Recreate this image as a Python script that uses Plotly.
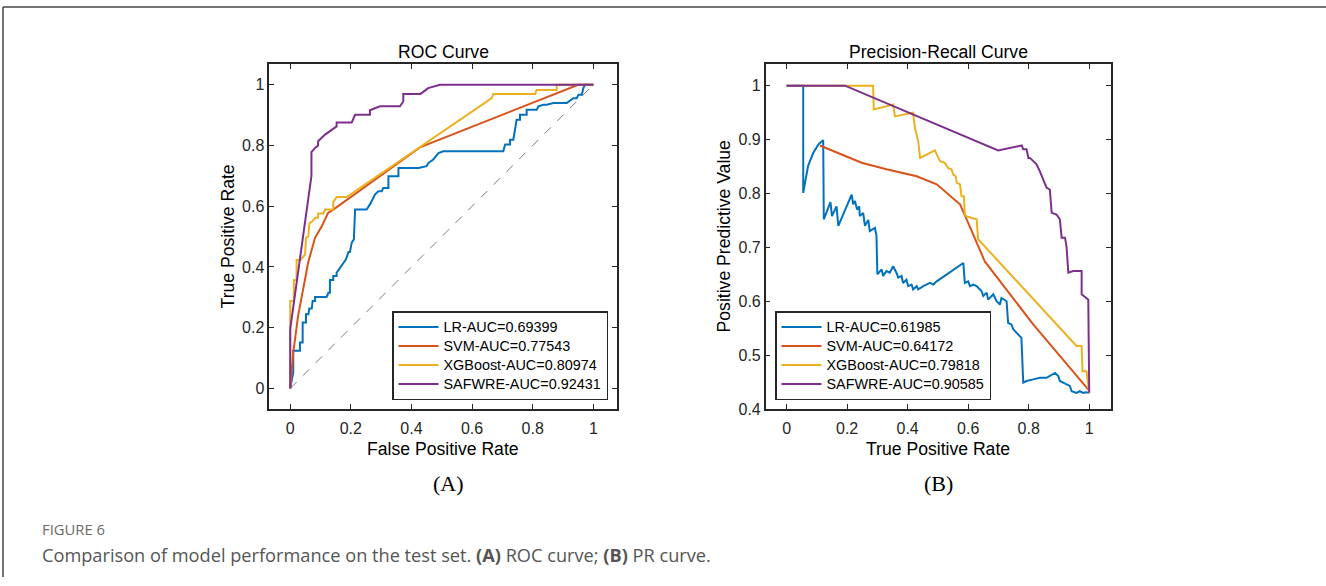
import plotly.graph_objects as go

# ---------------- ROC data ----------------
roc_lr_fpr = [0, 0.010, 0.010, 0.032, 0.032, 0.041, 0.041, 0.052, 0.052, 0.060, 0.063, 0.071, 0.074, 0.082, 0.082,
              0.120, 0.126, 0.131, 0.131, 0.142, 0.142, 0.153, 0.153, 0.164, 0.175, 0.184, 0.192, 0.197, 0.203,
              0.210, 0.214, 0.252, 0.263, 0.269, 0.280, 0.291, 0.302, 0.307, 0.324, 0.324, 0.357, 0.357, 0.423,
              0.450, 0.456, 0.472, 0.489, 0.505, 0.703, 0.709, 0.725, 0.725, 0.736, 0.747, 0.758, 0.758, 0.780,
              0.780, 0.813, 0.819, 0.835, 0.846, 0.868, 0.912, 0.918, 0.934, 0.945, 0.951, 0.962, 0.967, 0.973, 1.0]
roc_lr_tpr = [0, 0.053, 0.124, 0.124, 0.151, 0.151, 0.217, 0.217, 0.244, 0.244, 0.263, 0.263, 0.288, 0.288, 0.301,
              0.301, 0.315, 0.315, 0.357, 0.357, 0.370, 0.370, 0.381, 0.398, 0.414, 0.425, 0.449, 0.449, 0.480,
              0.491, 0.589, 0.589, 0.606, 0.617, 0.639, 0.649, 0.649, 0.660, 0.660, 0.699, 0.699, 0.726, 0.726,
              0.732, 0.743, 0.754, 0.775, 0.781, 0.781, 0.803, 0.803, 0.819, 0.819, 0.885, 0.885, 0.901, 0.901,
              0.918, 0.918, 0.929, 0.934, 0.934, 0.940, 0.940, 0.945, 0.956, 0.956, 0.967, 0.967, 0.989, 1.0, 1.0]

roc_svm_fpr = [0, 0.010, 0.026, 0.043, 0.059, 0.082, 0.104, 0.125, 0.142, 0.430, 0.950, 1.0]
roc_svm_tpr = [0, 0.118, 0.239, 0.326, 0.414, 0.496, 0.534, 0.578, 0.589, 0.795, 1.0, 1.0]

roc_xgb_fpr = [0, 0, 0.012, 0.012, 0.021, 0.021, 0.034, 0.049, 0.052, 0.060, 0.063, 0.074, 0.082, 0.092, 0.092,
               0.109, 0.115, 0.142, 0.142, 0.153, 0.186, 0.665, 0.670, 0.808, 0.813, 0.879, 0.879, 1.0]
roc_xgb_tpr = [0, 0.288, 0.288, 0.357, 0.357, 0.423, 0.423, 0.441, 0.496, 0.501, 0.543, 0.551, 0.562, 0.562, 0.576,
               0.576, 0.589, 0.589, 0.613, 0.630, 0.630, 0.956, 0.970, 0.970, 0.983, 0.983, 1.0, 1.0]

roc_saf_fpr = [0, 0, 0.070, 0.070, 0.082, 0.092, 0.092, 0.115, 0.153, 0.153, 0.203, 0.214, 0.263, 0.263, 0.296,
               0.362, 0.373, 0.373, 0.430, 0.455, 0.494, 1.0]
roc_saf_tpr = [0, 0.195, 0.700, 0.778, 0.792, 0.800, 0.814, 0.836, 0.863, 0.876, 0.876, 0.901, 0.901, 0.916, 0.929,
               0.929, 0.945, 0.970, 0.970, 0.989, 1.0, 1.0]

chance_line = [0, 1]

# ---------------- PR data ----------------
pr_lr_rec = [0, 0.055, 0.055, 0.071, 0.088, 0.105, 0.121, 0.123, 0.145, 0.150, 0.165, 0.171, 0.215, 0.220, 0.226,
             0.233, 0.240, 0.242, 0.253, 0.259, 0.270, 0.275, 0.292, 0.297, 0.300, 0.314, 0.319, 0.330, 0.341,
             0.352, 0.363, 0.369, 0.380, 0.385, 0.396, 0.402, 0.413, 0.418, 0.430, 0.435, 0.452, 0.463, 0.474,
             0.485, 0.496, 0.584, 0.589, 0.600, 0.606, 0.617, 0.628, 0.644, 0.650, 0.661, 0.666, 0.683, 0.694,
             0.705, 0.710, 0.727, 0.732, 0.743, 0.749, 0.754, 0.765, 0.776, 0.782, 0.793, 0.815, 0.837, 0.859,
             0.887, 0.898, 0.903, 0.914, 0.925, 0.936, 0.942, 0.958, 0.969, 0.980, 0.991, 1.0]
pr_lr_prec = [1.0, 1.0, 0.801, 0.851, 0.875, 0.891, 0.899, 0.752, 0.784, 0.758, 0.776, 0.740, 0.798, 0.780, 0.786,
              0.770, 0.776, 0.758, 0.764, 0.740, 0.751, 0.730, 0.736, 0.722, 0.650, 0.659, 0.647, 0.656, 0.653,
              0.665, 0.653, 0.644, 0.647, 0.634, 0.640, 0.628, 0.631, 0.622, 0.628, 0.622, 0.628, 0.631, 0.634,
              0.631, 0.637, 0.671, 0.634, 0.637, 0.628, 0.631, 0.628, 0.619, 0.610, 0.616, 0.603, 0.613, 0.600,
              0.594, 0.606, 0.600, 0.560, 0.557, 0.548, 0.545, 0.538, 0.532, 0.449, 0.452, 0.455, 0.458, 0.458,
              0.467, 0.461, 0.452, 0.449, 0.446, 0.443, 0.433, 0.430, 0.433, 0.430, 0.431, 0.430]

pr_svm_rec = [0.110, 0.248, 0.330, 0.430, 0.496, 0.573, 0.595, 0.655, 0.815, 1.0]
pr_svm_prec = [0.889, 0.857, 0.845, 0.832, 0.817, 0.780, 0.752, 0.674, 0.557, 0.434]

pr_xgb_rec = [0, 0.286, 0.288, 0.352, 0.358, 0.418, 0.424, 0.435, 0.441, 0.474, 0.490, 0.501, 0.507, 0.523, 0.534,
              0.545, 0.551, 0.559, 0.562, 0.573, 0.578, 0.586, 0.589, 0.593, 0.628, 0.633, 0.958, 0.975, 0.978,
              0.991, 0.997, 1.0]
pr_xgb_prec = [1.0, 1.0, 0.956, 0.965, 0.943, 0.950, 0.922, 0.897, 0.866, 0.876, 0.880, 0.867, 0.860, 0.857, 0.847,
               0.845, 0.835, 0.832, 0.820, 0.817, 0.795, 0.795, 0.761, 0.758, 0.752, 0.715, 0.517, 0.517, 0.470,
               0.470, 0.436, 0.430]

pr_saf_rec = [0, 0.193, 0.699, 0.777, 0.782, 0.793, 0.799, 0.804, 0.826, 0.837, 0.859, 0.870, 0.876, 0.892, 0.903,
              0.909, 0.920, 0.925, 0.931, 0.947, 0.975, 0.975, 0.997, 1.0]
pr_saf_prec = [1.0, 1.0, 0.880, 0.889, 0.882, 0.882, 0.866, 0.866, 0.854, 0.841, 0.811, 0.807, 0.764, 0.761, 0.752,
               0.718, 0.718, 0.702, 0.653, 0.656, 0.656, 0.613, 0.603, 0.430]

roc_names = ["LR-AUC=0.69399", "SVM-AUC=0.77543", "XGBoost-AUC=0.80974", "SAFWRE-AUC=0.92431"]
pr_names = ["LR-AUC=0.61985", "SVM-AUC=0.64172", "XGBoost-AUC=0.79818", "SAFWRE-AUC=0.90585"]
colors = ["#0072BD", "#D95319", "#EDB120", "#7E2F8E"]

tick_vals_01 = [0, 0.2, 0.4, 0.6, 0.8, 1]
tick_text_01 = ["0", "0.2", "0.4", "0.6", "0.8", "1"]
pr_y_vals = [0.4, 0.5, 0.6, 0.7, 0.8, 0.9, 1]
pr_y_text = ["0.4", "0.5", "0.6", "0.7", "0.8", "0.9", "1"]

W, H = 1326, 586
VS = 0.987  # empirical vertical correction
FONT = "Liberation Sans, Arial, sans-serif"
AX = "#262626"
LEG_TXT = 14.4


def leg_label(s):
    return '<span style="font-size:%spx">%s</span>' % (LEG_TXT, s)


fig = go.Figure()

fig.add_trace(go.Scatter(x=chance_line, y=chance_line, mode="lines", showlegend=False,
                         line=dict(color="#7a7a7a", width=1, dash="dash"), xaxis="x", yaxis="y"))

roc_x = [roc_lr_fpr, roc_svm_fpr, roc_xgb_fpr, roc_saf_fpr]
roc_y = [roc_lr_tpr, roc_svm_tpr, roc_xgb_tpr, roc_saf_tpr]
for xs, ys, nm, c in zip(roc_x, roc_y, roc_names, colors):
    fig.add_trace(go.Scatter(x=xs, y=ys, mode="lines", name=leg_label(nm), line=dict(color=c, width=2),
                             xaxis="x", yaxis="y", legend="legend"))

pr_x = [pr_lr_rec, pr_svm_rec, pr_xgb_rec, pr_saf_rec]
pr_y = [pr_lr_prec, pr_svm_prec, pr_xgb_prec, pr_saf_prec]
for xs, ys, nm, c in zip(pr_x, pr_y, pr_names, colors):
    fig.add_trace(go.Scatter(x=xs, y=ys, mode="lines", name=leg_label(nm), line=dict(color=c, width=2),
                             xaxis="x2", yaxis="y2", legend="legend2"))


def px2x(px):
    return px / W


def py2y(py):
    return max(0.0, (H - py / VS) / H)


axis_common = dict(showline=True, linecolor=AX, linewidth=1.5, mirror="ticks", ticks="inside",
                   ticklen=5, tickwidth=1.2, tickcolor=AX, showgrid=False, zeroline=False,
                   tickfont=dict(family=FONT, size=16, color=AX))

legend_common = dict(xanchor="left", yanchor="bottom", bgcolor="white", bordercolor=AX, borderwidth=1.5,
                     font=dict(family=FONT, size=12, color="#000"), tracegroupgap=0, itemwidth=40)

fig.update_layout(
    width=W, height=H,
    margin=dict(l=0, r=0, t=0, b=0),
    paper_bgcolor="white", plot_bgcolor="white",
    xaxis=dict(domain=[px2x(269.3), px2x(617)], range=[-0.069, 1.078], tickvals=tick_vals_01,
               ticktext=tick_text_01, anchor="y", ticklabelstandoff=4, **axis_common),
    yaxis=dict(domain=[py2y(410), py2y(64.3)], range=[-0.068, 1.068], tickvals=tick_vals_01,
               ticktext=tick_text_01, anchor="x", **axis_common),
    xaxis2=dict(domain=[px2x(765.7), px2x(1111)], range=[-0.069, 1.072], tickvals=tick_vals_01,
                ticktext=tick_text_01, anchor="y2", ticklabelstandoff=4, **axis_common),
    yaxis2=dict(domain=[py2y(410), py2y(64.3)], range=[0.4, 1.04], tickvals=pr_y_vals,
                ticktext=pr_y_text, anchor="x2", **axis_common),
    legend=dict(x=px2x(392), y=py2y(401), **legend_common),
    legend2=dict(x=px2x(775), y=py2y(401), **legend_common),
    showlegend=True,
)

ann = []


def add_text(txt, x, y, size, family=FONT, color="#000", angle=0, xanchor="center"):
    ann.append(dict(text=txt, x=px2x(x), y=py2y(y), xref="paper", yref="paper", showarrow=False,
                    xanchor=xanchor, yanchor="middle", textangle=angle,
                    font=dict(family=family, size=size, color=color)))


add_text("ROC Curve", 443, 52, 17.6)
add_text("Precision-Recall Curve", 938, 52, 17.6)
add_text("False Positive Rate", 443, 450, 17.6)
add_text("True Positive Rate", 938, 450, 17.6)
add_text("True Positive Rate", 228, 237, 17.6, angle=-90)
add_text("Positive Predictive Value", 724, 237, 17.6, angle=-90)
add_text("(A)", 448, 485, 22, family="Liberation Serif, Times New Roman, serif")
add_text("(B)", 938, 485, 22, family="Liberation Serif, Times New Roman, serif")
add_text("FIGURE 6", 40, 530, 14.8, family="Open Sans, sans-serif", color="#6b6b6b", xanchor="left")
add_text("Comparison of model performance on the test set. <b>(A)</b> ROC curve; <b>(B)</b> PR curve.",
         40, 556, 18.2, family="Open Sans, sans-serif", color="#555555", xanchor="left")

fig.update_layout(annotations=ann)

fig.add_shape(type="line", xref="paper", yref="paper", x0=px2x(3), x1=1, y0=py2y(7), y1=py2y(7),
              line=dict(color="#444444", width=1.5))
fig.add_shape(type="line", xref="paper", yref="paper", x0=px2x(3), x1=px2x(3), y0=0, y1=py2y(7),
              line=dict(color="#444444", width=1.5))

fig.write_html("out.html")
